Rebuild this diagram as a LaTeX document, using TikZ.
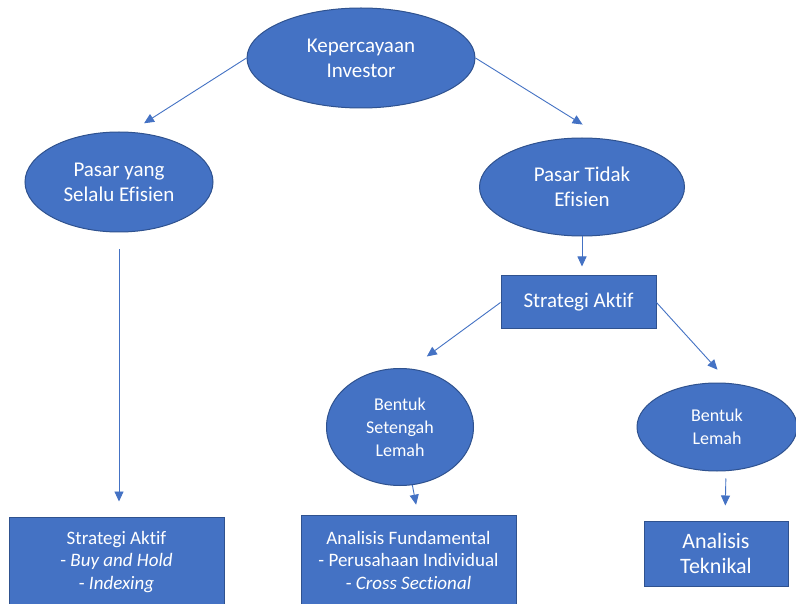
\documentclass[tikz,border=0pt]{standalone}
\usepackage{fontspec}
\setmainfont{Carlito}[Ligatures=NoCommon]
\usetikzlibrary{shapes.geometric,arrows.meta}
\definecolor{fillblue}{HTML}{4472C4}
\definecolor{edgeblue}{HTML}{2F528F}
\begin{document}
\begin{tikzpicture}[x=1pt,y=-1pt,
  ell/.style={ellipse, draw=edgeblue, line width=1pt, fill=fillblue, text=white, align=center, inner sep=0pt},
  boxs/.style={rectangle, draw=edgeblue, line width=1pt, fill=fillblue, text=white, align=center, inner sep=0pt},
  arr/.style={draw=fillblue, line width=0.9pt, -{Triangle[width=9pt,length=10pt]}},
  big/.style={font=\fontsize{21}{25}\selectfont},
  mid/.style={font=\fontsize{18}{23}\selectfont},
  small/.style={font=\fontsize{19}{22.5}\selectfont}]
\clip (0,0) rectangle (796,604);
\fill[white] (0,0) rectangle (796,604);

\node[ell, big, minimum width=228pt, minimum height=100pt] (top) at (361,58) {Kepercayaan\\Investor};
\node[ell, big, minimum width=188pt, minimum height=100pt] (eff) at (119,182) {Pasar yang\\Selalu Efisien};
\node[ell, big, minimum width=205pt, minimum height=98pt] (ineff) at (582,187) {Pasar Tidak\\Efisien};
\node[boxs, big, minimum width=155pt, minimum height=53pt] (sa) at (578.5,302.5) {Strategi Aktif};
\node[ell, mid, minimum width=147pt, minimum height=117pt] (semi) at (400,427) {Bentuk\\Setengah\\Lemah};
\node[ell, mid, minimum width=160pt, minimum height=88pt] (weak) at (717,427) {Bentuk\\Lemah};
\node[boxs, small, minimum width=215pt, minimum height=90pt] (bh) at (116.5,562) {Strategi Aktif\\- \textit{Buy and Hold}\\- \textit{Indexing}};
\node[boxs, small, minimum width=215pt, minimum height=90pt] (fa) at (408.5,560) {Analisis Fundamental\\- Perusahaan Individual\\- \textit{Cross Sectional}};
\node[boxs, font=\fontsize{22}{25.5}\selectfont, minimum width=144pt, minimum height=65pt] (ta) at (716,553.5) {Analisis\\Teknikal};

\draw[arr, shorten >=16pt] (top.west) -- (eff.77);
\draw[arr, shorten >=27pt] (top.east) -- (ineff.64);
\draw[arr, shorten >=9pt] (ineff.south) -- (ineff.south |- sa.north);
\draw[arr, shorten >=20.5pt] (sa.west) -- (semi.80);
\draw[arr, shorten >=18pt] (sa.east) -- (weak.74);
\draw[arr, shorten <=17pt, shorten >=15pt] (eff.south) -- (eff.south |- bh.north);
\draw[arr, shorten >=10pt] (semi.-78) -- ([xshift=9.5pt]fa.north);
\draw[arr, shorten <=7pt, shorten >=15pt] ([xshift=9pt]weak.south) -- ([xshift=9pt]ta.north);
\end{tikzpicture}
\end{document}
